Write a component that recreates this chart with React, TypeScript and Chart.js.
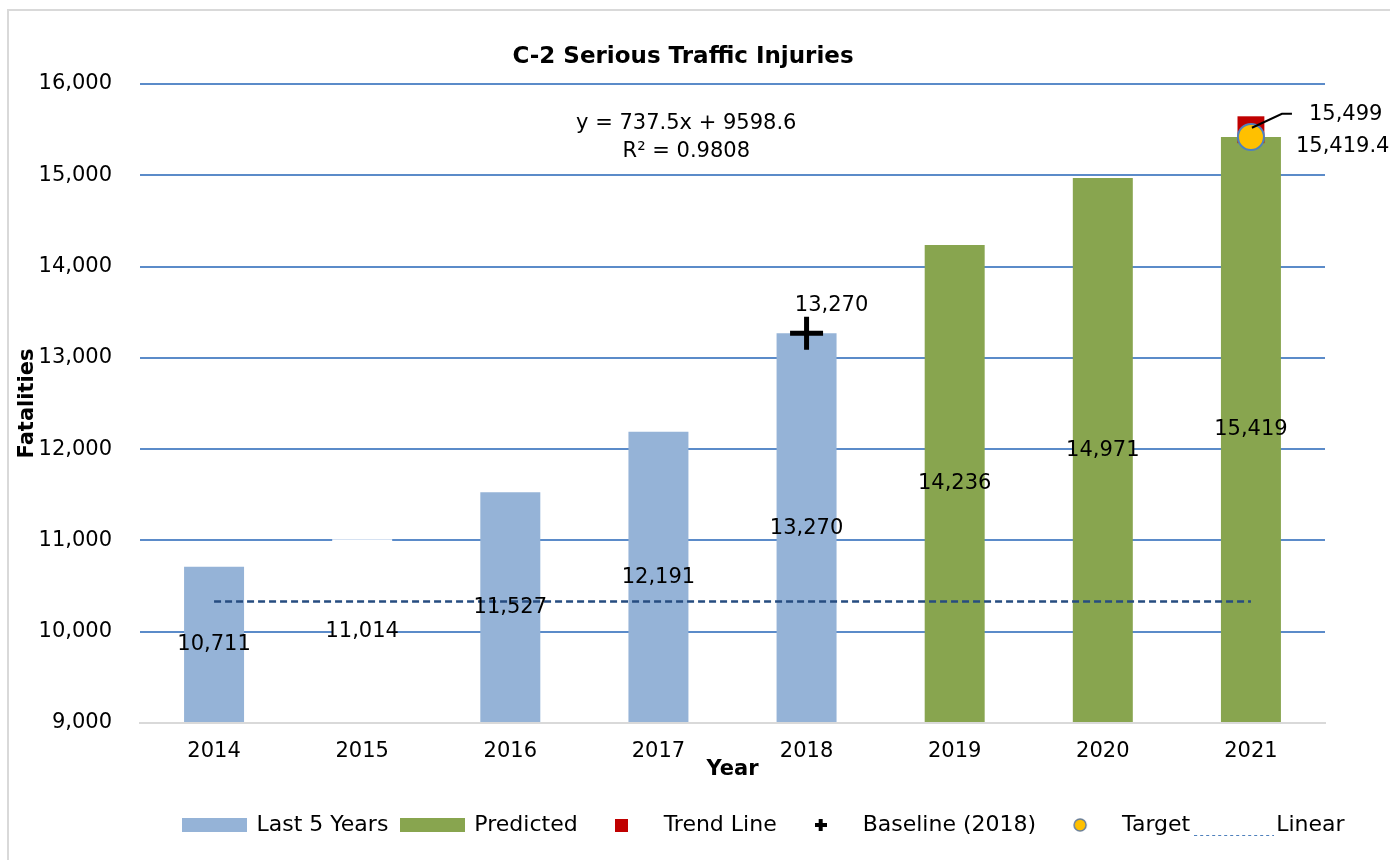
import React, { useEffect, useRef } from 'react';
import { Chart, registerables } from 'chart.js';

Chart.register(...registerables);

// ---- Data ----
const years = ['2014', '2015', '2016', '2017', '2018', '2019', '2020', '2021'];
const last5Years = [10711, 11014, 11527, 12191, 13270, null, null, null];
const last5Colors = ['#95B3D7', '#FFFFFF', '#95B3D7', '#95B3D7', '#95B3D7', '#95B3D7', '#95B3D7', '#95B3D7'];
const predicted = [null, null, null, null, null, 14236, 14971, 15419];
const trendLine = [null, null, null, null, null, null, null, 15499];
const baseline = [null, null, null, null, 13270, null, null, null];
const target = [null, null, null, null, null, null, null, 15419.4];
const linear = [10330, 10330, 10330, 10330, 10330, 10330, 10330, 10330];
const yMin = 9000;
const yMax = 16000;
const yStep = 1000;
const equationLines = ['y = 737.5x + 9598.6', 'R² = 0.9808'];
const equationValues = [15568, 15262];

const FONT = '"DejaVu Sans", sans-serif';

const fmt = (v: number) => v.toLocaleString('en-US', { maximumFractionDigits: 1 });

function makeIcon(w: number, h: number, draw: (g: CanvasRenderingContext2D) => void) {
  const c = document.createElement('canvas');
  c.width = w;
  c.height = h;
  const g = c.getContext('2d') as CanvasRenderingContext2D;
  draw(g);
  return c;
}

const labelPlugin = {
  id: 'customLabels',
  afterLayout(chart: any) {
    const t = chart.titleBlock;
    if (t) {
      t.left += 16;
      t.right += 16;
    }
    const lg = chart.legend;
    if (lg) {
      const w = lg.right - lg.left;
      lg.left = 161.5;
      lg.right = lg.left + w;
    }
  },
  afterDatasetsDraw(chart: any) {
    const ctx = chart.ctx as CanvasRenderingContext2D;
    const yScale = chart.scales.y;
    const ca = chart.chartArea;
    const basePx = yScale.getPixelForValue(yMin);
    ctx.save();
    ctx.font = `21px ${FONT}`;
    ctx.fillStyle = '#000000';
    ctx.textAlign = 'center';
    ctx.textBaseline = 'middle';
    [0, 1].forEach((di) => {
      const meta = chart.getDatasetMeta(di);
      meta.data.forEach((el: any, i: number) => {
        const v = chart.data.datasets[di].data[i];
        if (v == null) return;
        const p = el.getProps(['x', 'y'], true);
        ctx.fillText(fmt(v), p.x, (p.y + basePx) / 2);
      });
    });
    // baseline label
    const bMeta = chart.getDatasetMeta(3);
    bMeta.data.forEach((el: any, i: number) => {
      const v = baseline[i];
      if (v == null) return;
      ctx.fillText(fmt(v), el.x + 25, el.y - 28);
    });
    // trend + target labels
    ctx.textAlign = 'left';
    const tMeta = chart.getDatasetMeta(2);
    tMeta.data.forEach((el: any, i: number) => {
      const v = trendLine[i];
      if (v == null) return;
      ctx.strokeStyle = '#000000';
      ctx.lineWidth = 2;
      ctx.beginPath();
      ctx.moveTo(el.x + 1, el.y - 2);
      ctx.lineTo(el.x + 31, el.y - 16);
      ctx.lineTo(el.x + 41, el.y - 16);
      ctx.stroke();
      ctx.fillText(fmt(v), el.x + 58, el.y - 15);
    });
    const gMeta = chart.getDatasetMeta(4);
    gMeta.data.forEach((el: any, i: number) => {
      const v = target[i];
      if (v == null) return;
      ctx.fillText(fmt(v), el.x + 45, el.y + 10);
    });
    // equation
    ctx.textAlign = 'center';
    const ex = ca.left + 0.461 * (ca.right - ca.left);
    equationLines.forEach((line, i) => {
      ctx.fillText(line, ex, yScale.getPixelForValue(equationValues[i]));
    });
    ctx.restore();
  },
};

export default function App() {
  const ref = useRef<HTMLCanvasElement | null>(null);

  useEffect(() => {
    if (!ref.current) return;
    Chart.defaults.font.family = FONT;

    const icons = [
      makeIcon(65, 14, (g) => {
        g.fillStyle = '#95B3D7';
        g.fillRect(0, 0, 65, 14);
      }),
      makeIcon(65, 14, (g) => {
        g.fillStyle = '#88A54F';
        g.fillRect(0, 0, 65, 14);
      }),
      makeIcon(13, 13, (g) => {
        g.fillStyle = '#C00000';
        g.fillRect(0, 0, 13, 13);
      }),
      makeIcon(12, 12, (g) => {
        g.fillStyle = '#000000';
        g.fillRect(0, 4, 12, 4);
        g.fillRect(4, 0, 4, 12);
      }),
      makeIcon(16, 16, (g) => {
        g.beginPath();
        g.arc(8, 8, 6, 0, Math.PI * 2);
        g.fillStyle = '#FFC000';
        g.fill();
        g.lineWidth = 1.5;
        g.strokeStyle = '#6A7F99';
        g.stroke();
      }),
      makeIcon(80, 26, (g) => {
        g.strokeStyle = '#4F81BD';
        g.lineWidth = 1;
        g.setLineDash([3, 3]);
        g.beginPath();
        g.moveTo(0, 23.5);
        g.lineTo(80, 23.5);
        g.stroke();
      }),
    ];

    const chart = new Chart(ref.current, {
      type: 'bar',
      data: {
        labels: years,
        datasets: [
          {
            type: 'bar',
            label: 'Last 5 Years',
            data: last5Years,
            backgroundColor: last5Colors,
            grouped: false,
            barPercentage: 0.405,
            categoryPercentage: 1,
            order: 5,
          } as any,
          {
            type: 'bar',
            label: 'Predicted',
            data: predicted,
            backgroundColor: '#88A54F',
            grouped: false,
            barPercentage: 0.405,
            categoryPercentage: 1,
            order: 5,
          } as any,
          {
            type: 'line',
            label: 'Trend Line',
            data: trendLine,
            showLine: false,
            pointStyle: 'rect',
            pointRadius: 19,
            pointBackgroundColor: '#C00000',
            pointBorderColor: '#C00000',
            pointBorderWidth: 0,
            order: 2,
          } as any,
          {
            type: 'line',
            label: 'Baseline (2018)',
            data: baseline,
            showLine: false,
            pointStyle: 'cross',
            pointRadius: 16.5,
            pointBorderColor: '#000000',
            pointBorderWidth: 5,
            order: 1,
          } as any,
          {
            type: 'line',
            label: 'Target',
            data: target,
            showLine: false,
            pointStyle: 'circle',
            pointRadius: 13,
            pointBackgroundColor: '#FFC000',
            pointBorderColor: '#4F81BD',
            pointBorderWidth: 2,
            order: 1,
          } as any,
          {
            type: 'line',
            label: 'Linear',
            data: linear,
            borderColor: '#264C80',
            borderWidth: 2.5,
            borderDash: [7, 4],
            pointRadius: 0,
            fill: false,
            order: 3,
          } as any,
        ],
      },
      options: {
        animation: false,
        responsive: false,
        devicePixelRatio: 1,
        layout: { padding: { top: 0, left: 0, right: 65, bottom: 14 } },
        plugins: {
          tooltip: { enabled: false },
          title: {
            display: true,
            text: 'C-2 Serious Traffic Injuries',
            color: '#000000',
            font: { family: FONT, size: 23, weight: 'bold', lineHeight: 1.2 },
            padding: { top: 32.7, bottom: 12.7 },
          },
          legend: {
            display: true,
            position: 'bottom',
            align: 'start',
            labels: {
              usePointStyle: true,
              pointStyleWidth: 62,
              padding: 13,
              color: '#000000',
              font: { family: FONT, size: 22 },
              sort: (a: any, b: any) => a.datasetIndex - b.datasetIndex,
              generateLabels: (ch: any) =>
                ch.data.datasets.map((ds: any, i: number) => ({
                  text: ds.label,
                  pointStyle: icons[i],
                  datasetIndex: i,
                  fillStyle: 'transparent',
                  strokeStyle: 'transparent',
                  lineWidth: 0,
                  hidden: false,
                  fontColor: '#000000',
                })),
            },
          },
        },
        scales: {
          x: {
            grid: { display: false, drawTicks: false },
            border: { display: true, color: '#D9D9D9', width: 2, z: 1 },
            ticks: { color: '#000000', font: { family: FONT, size: 21 }, padding: 16.4 },
            title: {
              display: true,
              text: 'Year',
              color: '#000000',
              font: { family: FONT, size: 21, weight: 'bold', lineHeight: 1.2 },
              padding: { top: 0, bottom: 18.4 },
            },
            afterFit: (s: any) => {
              s.height = 78;
            },
          },
          y: {
            min: yMin,
            max: yMax,
            grid: {
              drawTicks: false,
              lineWidth: 2,
              color: (c: any) => (c.tick && c.tick.value === yMin ? 'rgba(0,0,0,0)' : '#5B8BC9'),
            },
            border: { display: false },
            ticks: {
              stepSize: yStep,
              color: '#000000',
              font: { family: FONT, size: 21 },
              padding: 28,
              callback: (v: any) => Number(v).toLocaleString('en-US'),
            },
            title: {
              display: true,
              text: 'Fatalities',
              color: '#000000',
              font: { family: FONT, size: 21, weight: 'bold', lineHeight: 1.2 },
              padding: { top: 6.4, bottom: 0 },
            },
            afterFit: (s: any) => {
              s.width = 131;
            },
          },
        },
      } as any,
      plugins: [labelPlugin],
    });

    return () => chart.destroy();
  }, []);

  return (
    <div
      style={{
        position: 'absolute',
        left: 7,
        top: 9,
        width: 1383,
        height: 851,
        boxSizing: 'border-box',
        borderLeft: '2px solid #D9D9D9',
        borderTop: '2px solid #D9D9D9',
        overflow: 'hidden',
        background: '#FFFFFF',
      }}
    >
      <canvas ref={ref} width={1381} height={849} style={{ display: 'block' }} />
    </div>
  );
}
